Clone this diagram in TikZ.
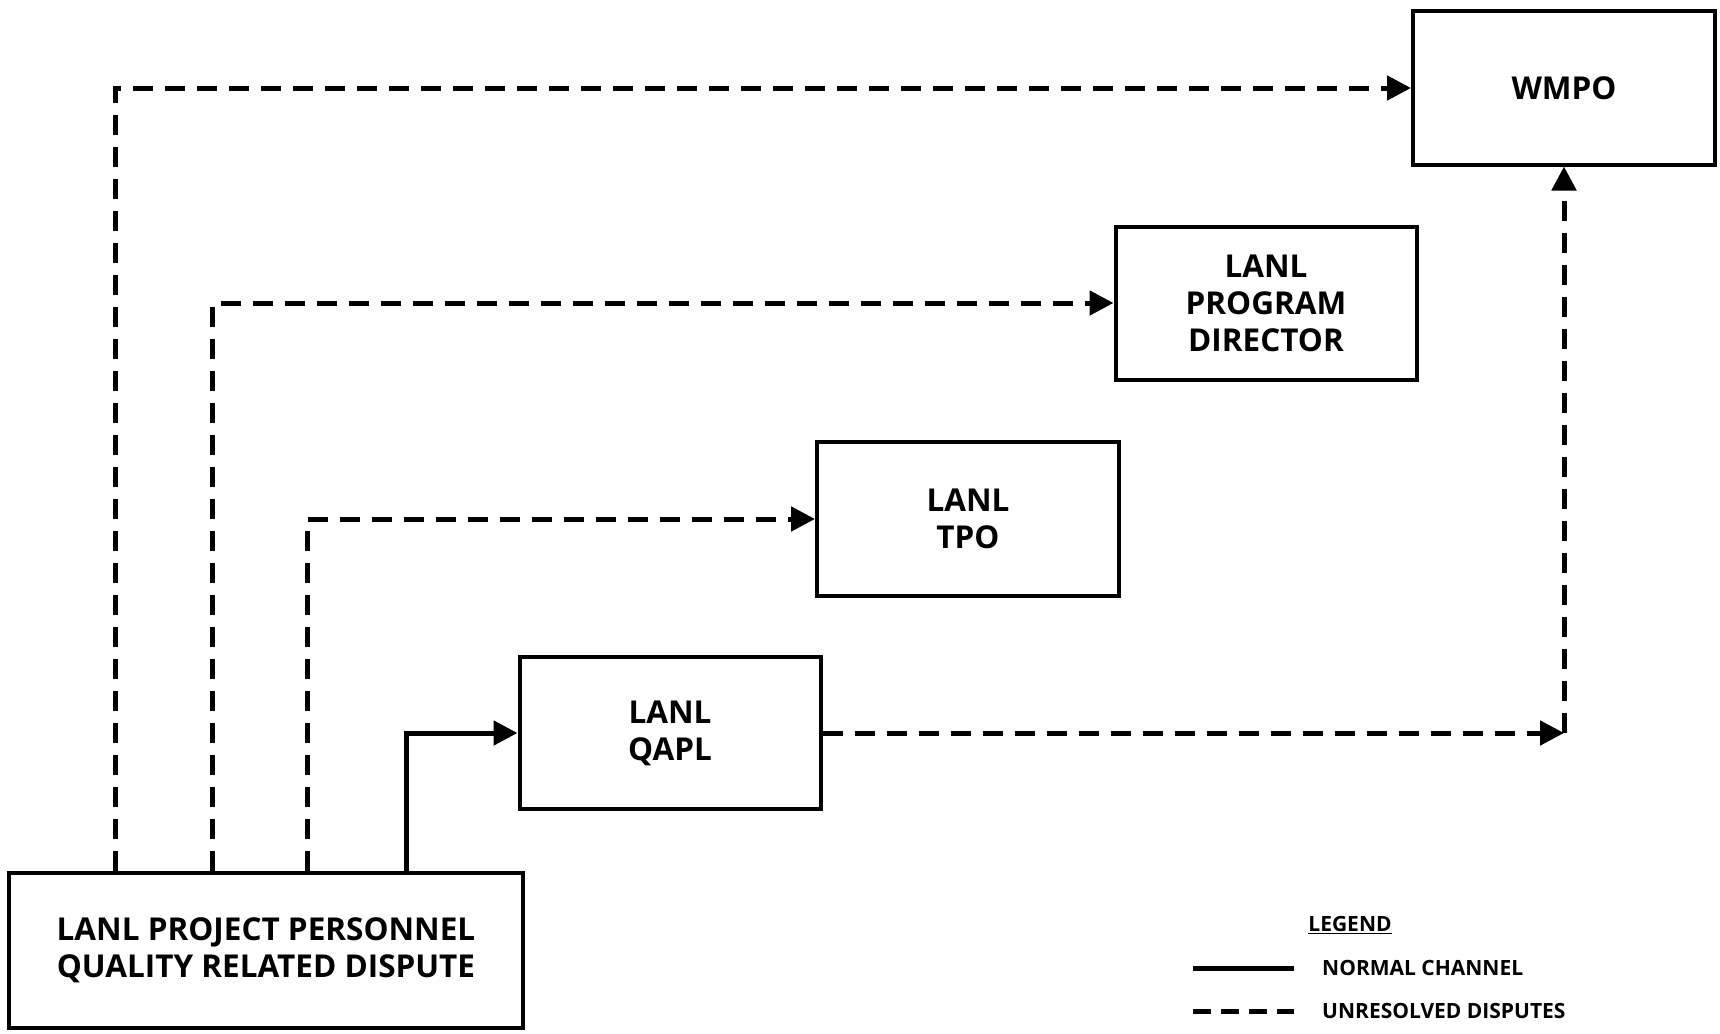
\documentclass[tikz,border=0pt]{standalone}
\usepackage{fontspec}
\setmainfont{Open Sans}
\usetikzlibrary{arrows.meta}
\tikzset{
  box/.style={draw, line width=4pt, align=center, inner sep=0pt,
    font=\bfseries\fontsize{31.5}{37}\selectfont},
  normal/.style={line width=5pt, -{Triangle[length=24pt,width=24pt]}},
  unres/.style={line width=5pt, dash pattern=on 20pt off 12pt, -{Triangle[length=24pt,width=24pt]}},
  legtext/.style={anchor=west, inner sep=0pt, font=\bfseries\fontsize{21}{24}\selectfont}
}
\begin{document}
\begin{tikzpicture}[x=1pt,y=-1pt]
\useasboundingbox (0,0) rectangle (1720,1033);
\node[box, minimum width=302pt, minimum height=153pt] (wmpo) at (1564,88) {WMPO};
\node[box, minimum width=301pt, minimum height=153pt] (pd) at (1266,303) {LANL\\PROGRAM\\DIRECTOR};
\node[box, minimum width=302pt, minimum height=154pt] (tpo) at (968,519) {LANL\\TPO};
\node[box, minimum width=301pt, minimum height=152pt] (qapl) at (670,733) {LANL\\QAPL};
\node[box, minimum width=514pt, minimum height=155pt] (lpp) at (266,950) {LANL PROJECT PERSONNEL\\QUALITY RELATED DISPUTE};
\coordinate (c1) at (115,0);
\coordinate (c2) at (212,0);
\coordinate (c3) at (307,0);
\coordinate (c4) at (406,0);
\draw[unres] (lpp.north -| c1) |- (wmpo.west);
\draw[unres] (lpp.north -| c2) |- (pd.west);
\draw[unres] (lpp.north -| c3) |- (tpo.west);
\draw[normal] (lpp.north -| c4) |- (qapl.west);
\coordinate (corner) at (wmpo.south |- qapl.east);
\draw[unres] (qapl.east) -- (corner);
\draw[unres] (corner) -- (wmpo.south);
% legend
\node[inner sep=0pt, font=\bfseries\fontsize{21}{24}\selectfont] (leg) at (1350,925) {\underline{LEGEND}};
\coordinate (ls1) at (1193,968);
\coordinate (ls2) at (1294,968);
\coordinate (ld1) at (1193,1011);
\coordinate (ld2) at (1294,1011);
\draw[line width=5pt] (ls1) -- (ls2);
\draw[line width=5pt, dash pattern=on 18pt off 10pt] (ld1) -- (ld2);
\node[legtext] (lnorm) at (1322,968) {NORMAL CHANNEL};
\node[legtext] (lunres) at (1322,1011) {UNRESOLVED DISPUTES};
\end{tikzpicture}
\end{document}
